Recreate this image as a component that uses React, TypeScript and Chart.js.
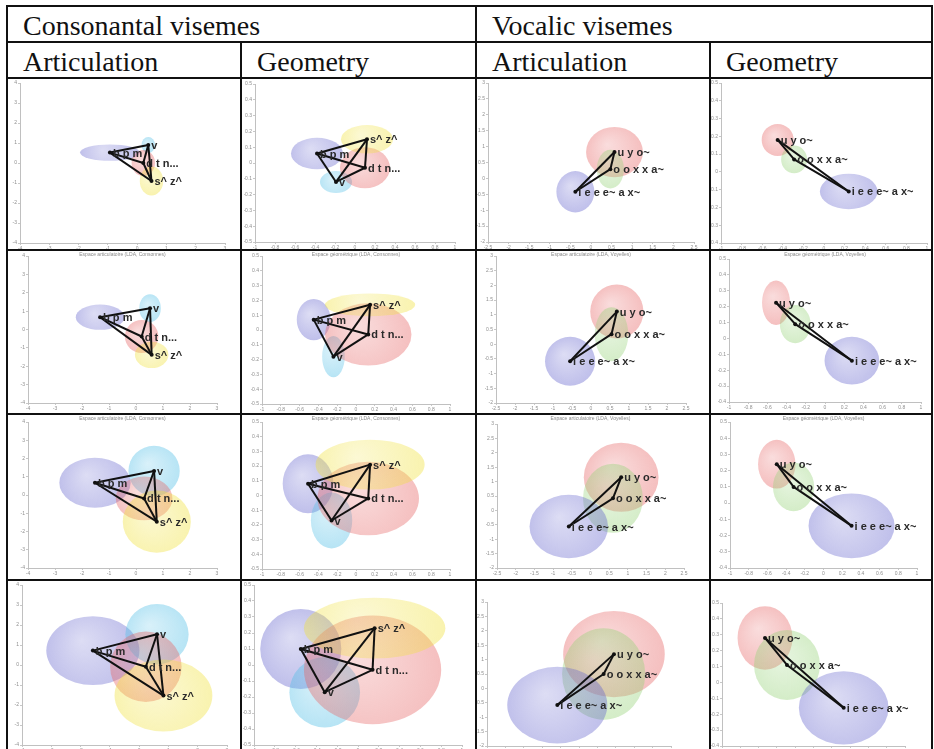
import React, { useEffect, useRef } from 'react';
import { Chart, registerables } from 'chart.js';
Chart.register(...registerables);

// ---------- categories / labels ----------
const consonantLabels = ['b p m', 'v', 'd t n...', 's^ z^'];
const vocalicLabels = ['u y o~', 'o o x x a~', 'i e e e~ a x~'];
const consonantEdges = [[0, 1], [0, 2], [0, 3], [1, 2], [1, 3], [2, 3]];
const vocalicEdges = [[0, 1], [0, 2], [1, 2]];

const headerTop = ['Consonantal visemes', 'Vocalic visemes'];
const headerSub = ['Articulation', 'Geometry', 'Articulation', 'Geometry'];
const captions = [
  'Espace articulatoire (LDA, Consonnes)',
  'Espace géométrique (LDA, Consonnes)',
  'Espace articulatoire (LDA, Voyelles)',
  'Espace géométrique (LDA, Voyelles)',
];

// ---------- tick labels ----------
const consArtXTicks = [-4, -3, -2, -1, 0, 1, 2, 3];
const consArtYTicks = [-4, -3, -2, -1, 0, 1, 2, 3, 4];
const consGeoXTicks = [-1, -0.8, -0.6, -0.4, -0.2, 0, 0.2, 0.4, 0.6, 0.8, 1];
const consGeoYTicks = [-0.5, -0.4, -0.3, -0.2, -0.1, 0, 0.1, 0.2, 0.3, 0.4, 0.5];
const vocArtXTicks = [-2.5, -2, -1.5, -1, -0.5, 0, 0.5, 1, 1.5, 2, 2.5];
const vocArtYTicks = [-2, -1.5, -1, -0.5, 0, 0.5, 1, 1.5, 2, 2.5, 3];
const vocGeoXTicks = [-1, -0.8, -0.6, -0.4, -0.2, 0, 0.2, 0.4, 0.6, 0.8, 1];
const vocGeoYTicks = [-0.4, -0.3, -0.2, -0.1, 0, 0.1, 0.2, 0.3, 0.4, 0.5];

// ---------- series values (rows 1..4), order follows labels ----------
const consArtX = [[-0.93, 0.38, 0.21, 0.49], [-1.33, 0.52, 0.21, 0.58], [-1.52, 0.67, 0.30, 0.77], [-1.58, 0.61, 0.23, 0.83]];
const consArtY = [[0.52, 0.90, 0.0, -0.90], [0.67, 1.16, -0.38, -1.38], [0.67, 1.32, -0.19, -1.46], [0.72, 1.54, -0.09, -1.53]];
const consArtRX = [[1.02, 0.23, 0.40, 0.40], [0.90, 0.40, 0.62, 0.62], [1.32, 0.95, 1.05, 1.26], [1.59, 1.08, 1.22, 1.67]];
const consArtRY = [[0.41, 0.40, 0.65, 0.72], [0.69, 0.76, 0.90, 0.72], [1.37, 1.38, 1.20, 1.70], [1.72, 1.51, 1.76, 1.80]];

const consGeoX = [[-0.38, -0.19, 0.10, 0.12], [-0.45, -0.24, 0.13, 0.15], [-0.51, -0.26, 0.13, 0.15], [-0.55, -0.32, 0.14, 0.16]];
const consGeoY = [[0.06, -0.12, -0.03, 0.15], [0.07, -0.18, -0.03, 0.17], [0.08, -0.17, -0.02, 0.21], [0.10, -0.17, -0.03, 0.23]];
const consGeoRX = [[0.26, 0.16, 0.25, 0.26], [0.18, 0.12, 0.46, 0.48], [0.27, 0.22, 0.54, 0.58], [0.39, 0.34, 0.66, 0.68]];
const consGeoRY = [[0.10, 0.07, 0.13, 0.09], [0.14, 0.14, 0.21, 0.077], [0.20, 0.19, 0.25, 0.17], [0.25, 0.22, 0.34, 0.19]];

const vocArtX = [[0.57, 0.47, -0.38], [0.68, 0.54, -0.55], [0.82, 0.60, -0.58], [0.95, 0.67, -0.59]];
const vocArtY = [[0.83, 0.29, -0.42], [1.11, 0.34, -0.58], [1.15, 0.42, -0.56], [1.19, 0.50, -0.58]];
const vocArtRX = [[0.69, 0.33, 0.46], [0.70, 0.44, 0.66], [1.00, 0.80, 1.05], [1.38, 1.13, 1.36]];
const vocArtRY = [[0.79, 0.61, 0.65], [0.92, 0.92, 0.83], [1.20, 1.20, 1.10], [1.50, 1.59, 1.33]];

const vocGeoX = [[-0.45, -0.29, 0.24], [-0.51, -0.31, 0.28], [-0.50, -0.32, 0.30], [-0.53, -0.29, 0.33]];
const vocGeoY = [[0.18, 0.07, -0.11], [0.225, 0.09, -0.14], [0.24, 0.10, -0.14], [0.28, 0.11, -0.16]];
const vocGeoRX = [[0.155, 0.126, 0.28], [0.146, 0.16, 0.285], [0.20, 0.22, 0.46], [0.30, 0.36, 0.49]];
const vocGeoRY = [[0.09, 0.078, 0.10], [0.14, 0.12, 0.15], [0.15, 0.15, 0.20], [0.20, 0.22, 0.23]];

// ---------- styles ----------
const PURPLE = [100, 100, 205];
const CYAN = [80, 190, 230];
const PINK = [230, 100, 100];
const YELLOW = [240, 225, 60];
const GREEN = [150, 210, 120];
const consonantColors = [PURPLE, CYAN, PINK, YELLOW];
const vocalicColors = [PINK, GREEN, PURPLE];

// ---------- layout (page pixels) ----------
const colB = [7, 241, 476, 710, 932];
const rowB = [78, 250, 414, 580, 751];
// plot areas [left, right, top, bottom] per row, per column
const plotAreas = [
  [[20, 225, 80, 243], [255, 455, 84, 242], [488, 694, 79, 242], [721, 927, 81, 243]],
  [[28, 217, 256, 403], [262, 450, 256, 404], [496, 686, 256, 403], [729, 921, 259, 402]],
  [[28, 217, 422, 568], [262, 450, 422, 569], [497, 684, 424, 568], [730, 917, 422, 568]],
  [[22, 227, 583, 745], [254, 462, 585, 745], [487, 671, 602, 746], [722, 905, 603, 746]],
];

const ellipsePlugin = {
  id: 'ellipses',
  beforeDatasetsDraw(chart: any, _a: any, opts: any) {
    const { ctx, chartArea } = chart;
    const xs = chart.scales.x, ys = chart.scales.y;
    ctx.save();
    ctx.beginPath();
    ctx.rect(chartArea.left, chartArea.top, chartArea.right - chartArea.left, chartArea.bottom - chartArea.top);
    ctx.clip();
    (opts.items || []).forEach((e: any) => {
      const cx = xs.getPixelForValue(e.x), cy = ys.getPixelForValue(e.y);
      const rx = Math.abs(xs.getPixelForValue(e.x + e.rx) - cx);
      const ry = Math.abs(ys.getPixelForValue(e.y + e.ry) - cy);
      const [r, g, b] = e.color;
      const grad = ctx.createRadialGradient(cx - rx * 0.25, cy - ry * 0.3, 0, cx, cy, Math.max(rx, ry) * 1.05);
      grad.addColorStop(0, `rgba(${r},${g},${b},0.22)`);
      grad.addColorStop(1, `rgba(${r},${g},${b},0.42)`);
      ctx.beginPath();
      ctx.ellipse(cx, cy, rx, ry, 0, 0, Math.PI * 2);
      ctx.fillStyle = grad;
      ctx.fill();
    });
    ctx.restore();
  },
};

const labelPlugin = {
  id: 'pointLabels',
  afterDatasetsDraw(chart: any, _a: any, opts: any) {
    const { ctx } = chart;
    const xs = chart.scales.x, ys = chart.scales.y;
    ctx.save();
    ctx.font = 'bold 11px "Liberation Sans", Arial, sans-serif';
    ctx.fillStyle = '#2a2a2a';
    ctx.textBaseline = 'middle';
    ctx.textAlign = 'left';
    (opts.items || []).forEach((p: any) => {
      ctx.fillText(p.text, xs.getPixelForValue(p.x) + 3, ys.getPixelForValue(p.y) + 1);
    });
    ctx.restore();
  },
};

const captionPlugin = {
  id: 'caption',
  afterDraw(chart: any, _a: any, opts: any) {
    if (!opts.text) return;
    const { ctx, chartArea } = chart;
    ctx.save();
    ctx.font = '5px "Liberation Sans", Arial, sans-serif';
    ctx.fillStyle = '#8a8a8a';
    ctx.textAlign = 'center';
    ctx.textBaseline = 'top';
    ctx.fillText(opts.text, (chartArea.left + chartArea.right) / 2, 1);
    ctx.restore();
  },
};

type PlotCfg = {
  box: { x: number; y: number; w: number; h: number };
  area: number[];
  xTicks: number[];
  yTicks: number[];
  X: number[];
  Y: number[];
  RX: number[];
  RY: number[];
  labels: string[];
  colors: number[][];
  edges: number[][];
  caption: string;
};

function fmt(v: number) {
  return String(Math.round(v * 100) / 100);
}

function buildConfig(c: PlotCfg): any {
  const { box, area } = c;
  const L = area[0] - box.x, R = area[1] - box.x, T = area[2] - box.y, B = area[3] - box.y;
  const yW = Math.min(L, 11);
  const xH = Math.max(0, Math.min(box.h - B, 10));
  const padB = Math.max(0, box.h - B - xH);
  const datasets: any[] = [];
  c.edges.forEach(([a, b]) => {
    datasets.push({
      data: [{ x: c.X[a], y: c.Y[a] }, { x: c.X[b], y: c.Y[b] }],
      showLine: true,
      borderColor: '#111',
      borderWidth: 2,
      pointRadius: 0,
    });
  });
  datasets.push({
    data: c.X.map((x, i) => ({ x, y: c.Y[i] })),
    pointRadius: 2,
    backgroundColor: '#111',
    borderWidth: 0,
  });
  const axis = (ticks: number[], isX: boolean) => ({
    type: 'linear',
    min: ticks[0],
    max: ticks[ticks.length - 1],
    afterBuildTicks: (s: any) => {
      s.ticks = ticks.map((v) => ({ value: v }));
    },
    afterFit: (s: any) => {
      if (isX) s.height = xH;
      else s.width = yW;
      s.paddingLeft = 0;
      s.paddingRight = 0;
      s.paddingTop = 0;
      s.paddingBottom = 0;
    },
    ticks: {
      font: { size: 5, family: '"Liberation Sans", Arial, sans-serif' },
      color: '#8f8f8f',
      padding: 1,
      autoSkip: false,
      maxRotation: 0,
      minRotation: 0,
      callback: (v: any) => fmt(Number(v)),
    },
    grid: { drawOnChartArea: false, drawTicks: true, tickLength: 2, color: '#c8c8c8' },
    border: { display: true, color: '#c0c0c0', width: 1 },
  });
  return {
    type: 'scatter',
    data: { datasets },
    plugins: [ellipsePlugin, labelPlugin, captionPlugin],
    options: {
      animation: false,
      responsive: false,
      devicePixelRatio: 1,
      events: [],
      layout: { padding: { left: L - yW, right: Math.max(0, box.w - R), top: T, bottom: padB } },
      scales: { x: axis(c.xTicks, true), y: axis(c.yTicks, false) },
      plugins: {
        legend: { display: false },
        tooltip: { enabled: false },
        ellipses: {
          items: c.X.map((x, i) => ({ x, y: c.Y[i], rx: c.RX[i], ry: c.RY[i], color: c.colors[i] })),
        },
        pointLabels: { items: c.X.map((x, i) => ({ x, y: c.Y[i], text: c.labels[i] })) },
        caption: { text: c.caption },
      },
    },
  };
}

function Plot({ cfg }: { cfg: PlotCfg }) {
  const ref = useRef<HTMLCanvasElement>(null);
  useEffect(() => {
    const chart = new Chart(ref.current as HTMLCanvasElement, buildConfig(cfg));
    return () => chart.destroy();
  }, []);
  const { box } = cfg;
  return (
    <canvas
      ref={ref}
      width={box.w}
      height={box.h}
      style={{ position: 'absolute', left: box.x, top: box.y, width: box.w, height: box.h, display: 'block' }}
    />
  );
}

const columns = [
  { xT: consArtXTicks, yT: consArtYTicks, X: consArtX, Y: consArtY, RX: consArtRX, RY: consArtRY, labels: consonantLabels, colors: consonantColors, edges: consonantEdges },
  { xT: consGeoXTicks, yT: consGeoYTicks, X: consGeoX, Y: consGeoY, RX: consGeoRX, RY: consGeoRY, labels: consonantLabels, colors: consonantColors, edges: consonantEdges },
  { xT: vocArtXTicks, yT: vocArtYTicks, X: vocArtX, Y: vocArtY, RX: vocArtRX, RY: vocArtRY, labels: vocalicLabels, colors: vocalicColors, edges: vocalicEdges },
  { xT: vocGeoXTicks, yT: vocGeoYTicks, X: vocGeoX, Y: vocGeoY, RX: vocGeoRX, RY: vocGeoRY, labels: vocalicLabels, colors: vocalicColors, edges: vocalicEdges },
];

function Line({ x, y, w, h }: { x: number; y: number; w: number; h: number }) {
  return <div style={{ position: 'absolute', left: x, top: y, width: w, height: h, background: '#111' }} />;
}

export default function App() {
  const plots: PlotCfg[] = [];
  for (let r = 0; r < 4; r++) {
    for (let c = 0; c < 4; c++) {
      const col = columns[c];
      plots.push({
        box: { x: colB[c] + 1, y: rowB[r] + 1, w: colB[c + 1] - colB[c] - 2, h: rowB[r + 1] - rowB[r] - 2 },
        area: plotAreas[r][c],
        xTicks: col.xT,
        yTicks: col.yT,
        X: col.X[r],
        Y: col.Y[r],
        RX: col.RX[r],
        RY: col.RY[r],
        labels: col.labels,
        colors: col.colors,
        edges: col.edges,
        caption: r === 1 || r === 2 ? captions[c] : '',
      });
    }
  }
  const serif = '"Liberation Serif", "Times New Roman", serif';
  const textStyle = (left: number, top: number): React.CSSProperties => ({
    position: 'absolute',
    left,
    top,
    fontFamily: serif,
    fontSize: 28,
    lineHeight: '28px',
    color: '#111',
    whiteSpace: 'nowrap',
  });
  const fullW = colB[4] - colB[0] + 2;
  return (
    <div style={{ position: 'absolute', left: 0, top: 0, width: 934, height: 749, overflow: 'hidden', background: '#fff' }}>
      {plots.map((p, i) => (
        <Plot key={i} cfg={p} />
      ))}
      <div style={textStyle(23, 12)}>{headerTop[0]}</div>
      <div style={textStyle(492, 12)}>{headerTop[1]}</div>
      {headerSub.map((t, i) => (
        <div key={t + i} style={textStyle(colB[i] + 16, 48)}>{t}</div>
      ))}
      {/* horizontal rules */}
      {[6, 42, 78, 250, 414, 580].map((y) => (
        <Line key={'h' + y} x={colB[0] - 1} y={y - 1} w={fullW} h={2} />
      ))}
      {/* vertical rules */}
      {[colB[0], colB[2], colB[4]].map((x) => (
        <Line key={'v' + x} x={x - 1} y={5} w={2} h={760} />
      ))}
      {[colB[1], colB[3]].map((x) => (
        <Line key={'vs' + x} x={x - 1} y={41} w={2} h={720} />
      ))}
    </div>
  );
}
